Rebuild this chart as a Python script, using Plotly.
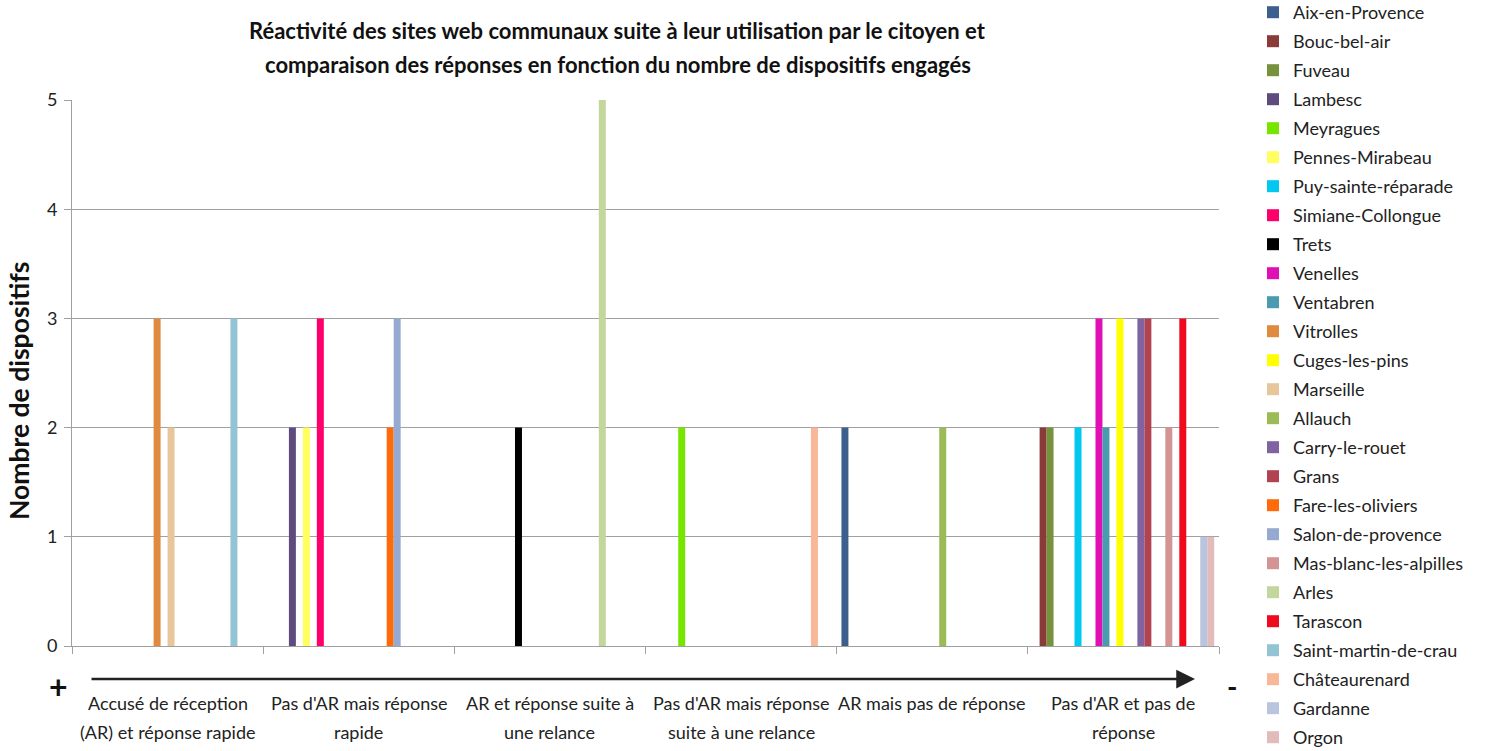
import plotly.graph_objects as go

categories = [
    "Accusé de réception\n(AR) et réponse rapide",
    "Pas d'AR mais réponse\nrapide",
    "AR et réponse suite à\nune relance",
    "Pas d'AR mais réponse\nsuite à une relance",
    "AR mais pas de réponse\n",
    "Pas d'AR et pas de\nréponse",
]

communes = [
    "Aix-en-Provence", "Bouc-bel-air", "Fuveau", "Lambesc", "Meyragues",
    "Pennes-Mirabeau", "Puy-sainte-réparade", "Simiane-Collongue", "Trets",
    "Venelles", "Ventabren", "Vitrolles", "Cuges-les-pins", "Marseille",
    "Allauch", "Carry-le-rouet", "Grans", "Fare-les-oliviers",
    "Salon-de-provence", "Mas-blanc-les-alpilles", "Arles", "Tarascon",
    "Saint-martin-de-crau", "Châteaurenard", "Gardanne", "Orgon",
]

# values per commune, one per category (None = no bar)
aix = [None, None, None, None, 2, None]
bouc = [None, None, None, None, None, 2]
fuveau = [None, None, None, None, None, 2]
lambesc = [None, 2, None, None, None, None]
meyragues = [None, None, None, 2, None, None]
pennes = [None, 2, None, None, None, None]
puy = [None, None, None, None, None, 2]
simiane = [None, 3, None, None, None, None]
trets = [None, None, 2, None, None, None]
venelles = [None, None, None, None, None, 3]
ventabren = [None, None, None, None, None, 2]
vitrolles = [3, None, None, None, None, None]
cuges = [None, None, None, None, None, 3]
marseille = [2, None, None, None, None, None]
allauch = [None, None, None, None, 2, None]
carry = [None, None, None, None, None, 3]
grans = [None, None, None, None, None, 3]
fare = [None, 2, None, None, None, None]
salon = [None, 3, None, None, None, None]
masblanc = [None, None, None, None, None, 2]
arles = [None, None, 5, None, None, None]
tarascon = [None, None, None, None, None, 3]
saintmartin = [3, None, None, None, None, None]
chateaurenard = [None, None, None, 2, None, None]
gardanne = [None, None, None, None, None, 1]
orgon = [None, None, None, None, None, 1]

series_values = [aix, bouc, fuveau, lambesc, meyragues, pennes, puy, simiane,
                 trets, venelles, ventabren, vitrolles, cuges, marseille,
                 allauch, carry, grans, fare, salon, masblanc, arles, tarascon,
                 saintmartin, chateaurenard, gardanne, orgon]

colors = [
    "#3C5F8E", "#8B3A3A", "#77923C", "#5F4B7E", "#76E600", "#FFFF60",
    "#00C8F0", "#FF006A", "#000000", "#E010B4", "#4A9BB0", "#E08A40",
    "#FFFF00", "#E8C69C", "#9BBB59", "#8064A2", "#B0434F", "#FF6A0A",
    "#95A9D1", "#D49494", "#C3D69B", "#F00A1E", "#93C4D4", "#F8B898",
    "#B9C5DF", "#E2BBBB",
]

title_lines = [
    "Réactivité des sites web communaux suite à leur utilisation par le citoyen et",
    "comparaison des réponses en fonction du nombre de dispositifs engagés",
]
y_title = "Nombre de dispositifs"

FONT = "Lato"
W, H = 1485, 751
# plot area in screen pixels
L, R, T, B = 72, 1219, 100, 646
pw, ph = R - L, B - T

def px_x(x):
    return (x - L) / pw

def px_y(y):
    return (B - y) / ph

fig = go.Figure()
for name, vals, col in zip(communes, series_values, colors):
    fig.add_trace(go.Bar(
        x=categories, y=vals, name=name, legendgroup=name,
        marker=dict(color=col, line=dict(width=0)),
    ))

annotations = []
for i, line in enumerate(title_lines):
    annotations.append(dict(
        text="<b>" + line + "</b>", xref="paper", yref="paper",
        x=px_x(617.5), y=px_y([30, 64][i]), xanchor="center", yanchor="middle",
        showarrow=False, font=dict(family=FONT, size=22, color="#111111"),
    ))

annotations.append(dict(
    text="<b>" + y_title + "</b>", xref="paper", yref="paper",
    x=px_x(19), y=px_y(391), xanchor="center", yanchor="middle",
    textangle=-90, showarrow=False,
    font=dict(family=FONT, size=26.5, color="#111111"),
))

for c in categories:
    l1, l2 = c.split("\n")
    annotations.append(dict(text=l1, xref="x", yref="paper", x=c, y=px_y(703),
                            xanchor="center", yanchor="middle", showarrow=False,
                            font=dict(family=FONT, size=18, color="#222222")))
    if l2:
        annotations.append(dict(text=l2, xref="x", yref="paper", x=c, y=px_y(732),
                                xanchor="center", yanchor="middle", showarrow=False,
                                font=dict(family=FONT, size=18, color="#222222")))

# direction arrow under the axis
annotations.append(dict(
    text="", xref="paper", yref="paper", x=px_x(1195), y=px_y(679),
    ax=-1105, ay=0, axref="pixel", ayref="pixel", showarrow=True,
    arrowhead=2, arrowsize=1.5, arrowwidth=2.5, arrowcolor="#222222",
))
annotations.append(dict(text="<b>+</b>", xref="paper", yref="paper",
                        x=px_x(58), y=px_y(686), xanchor="center", yanchor="middle",
                        showarrow=False, font=dict(family=FONT, size=32, color="#111111")))
annotations.append(dict(text="<b>-</b>", xref="paper", yref="paper",
                        x=px_x(1232), y=px_y(686), xanchor="center", yanchor="middle",
                        showarrow=False, font=dict(family=FONT, size=28, color="#111111")))

fig.update_layout(
    width=W, height=H,
    margin=dict(l=L, r=W - R, t=T, b=H - B, autoexpand=False),
    paper_bgcolor="white", plot_bgcolor="white",
    barmode="group", bargap=0.05, bargroupgap=0,
    font=dict(family=FONT, size=18, color="#222222"),
    showlegend=True,
    legend=dict(
        x=px_x(1253), y=px_y(-6), xanchor="left", yanchor="top",
        font=dict(family=FONT, size=18, color="#222222"),
        tracegroupgap=2.6, traceorder="grouped",
        bgcolor="rgba(0,0,0,0)", borderwidth=0, maxheight=1200,
    ),
    annotations=annotations,
)
fig.update_xaxes(
    type="category", showline=True, linecolor="#A0A0A0", linewidth=1,
    ticks="outside", tickson="boundaries", ticklen=7, tickcolor="#A0A0A0",
    showticklabels=False, showgrid=False, zeroline=False,
)
fig.update_yaxes(
    range=[0, 5], dtick=1, showline=True, linecolor="#A0A0A0", linewidth=1,
    ticks="outside", ticklen=7, tickcolor="#A0A0A0", gridcolor="#A0A0A0",
    gridwidth=1, zeroline=False, tickfont=dict(family=FONT, size=18, color="#222222"),
    ticklabelstandoff=3,
)

fig.write_html(
    "out.html",
    config={"displayModeBar": False},
    post_script="document.body.style.margin='0';document.body.style.overflow='hidden';",
)
